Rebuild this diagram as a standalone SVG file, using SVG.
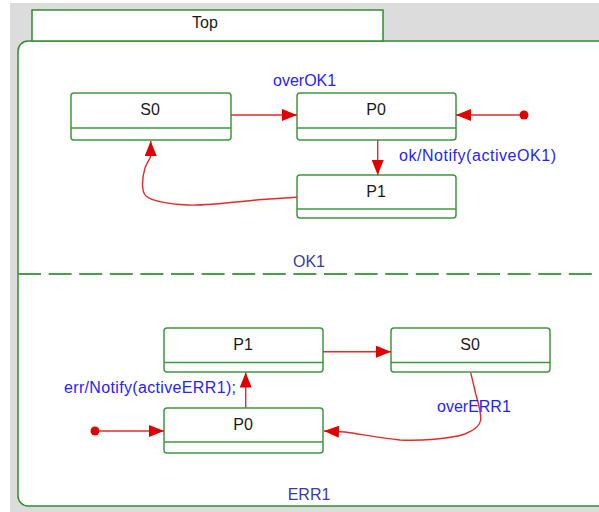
<svg xmlns="http://www.w3.org/2000/svg" width="599" height="512" viewBox="0 0 599 512">
<style>
.bg{fill:#dcdcdd}
.cont{fill:#fff;stroke:#2f8f2f;stroke-width:1.5}
.node rect.box{fill:#fff;stroke:#3f973f;stroke-width:1.5}
.node line{stroke:#3f973f;stroke-width:1.5}
.nt{font-family:"Liberation Sans",Arial,sans-serif;font-size:16px;fill:#1a1a1a;text-anchor:middle}
.lbl{font-family:"Liberation Sans",Arial,sans-serif;font-size:16px;fill:#2424ff}
.reg{font-family:"Liberation Sans",Arial,sans-serif;font-size:16px;fill:#3a3aa8;text-anchor:middle}
.edge{fill:none;stroke:#e52a2a;stroke-width:1.4;marker-end:url(#ah)}
.dot{fill:#e00000}
</style>
<defs>
<marker id="ah" markerUnits="userSpaceOnUse" markerWidth="15" markerHeight="12" viewBox="0 0 15 12" refX="15" refY="6" orient="auto">
<path d="M0,0 L15,6 L0,12 z" fill="#e00000"/>
</marker>
</defs>
<rect class="bg" x="10" y="3" width="589" height="509"/>
<g id="container">
<rect class="cont" x="18" y="41" width="590" height="465" rx="10" ry="10"/>
<rect x="32" y="10" width="351" height="31" fill="#fff" stroke="#2f8f2f" stroke-width="1.5"/>
<text class="nt" x="205" y="28">Top</text>
<line x1="18" y1="274" x2="599" y2="274" stroke="#4a9e4a" stroke-width="2" stroke-dasharray="23 7.6"/>
<text class="reg" x="309" y="267">OK1</text>
<text class="reg" x="309" y="500">ERR1</text>
</g>
<g id="ok_S0" class="node">
<rect class="box" x="71" y="93" width="160" height="47" rx="3"/>
<line x1="71" y1="128" x2="231" y2="128"/>
<text class="nt" x="150" y="115">S0</text>
</g>
<g id="ok_P0" class="node">
<rect class="box" x="297" y="93" width="159" height="47" rx="3"/>
<line x1="297" y1="128" x2="456" y2="128"/>
<text class="nt" x="376" y="115">P0</text>
</g>
<g id="ok_P1" class="node">
<rect class="box" x="297" y="175" width="159" height="43" rx="3"/>
<line x1="297" y1="209" x2="456" y2="209"/>
<text class="nt" x="376" y="197">P1</text>
</g>
<g id="ok_init"><circle class="dot" cx="524" cy="115" r="4.5"/></g>
<g id="err_P1" class="node">
<rect class="box" x="164" y="328" width="159" height="44" rx="3"/>
<line x1="164" y1="362.5" x2="323" y2="362.5"/>
<text class="nt" x="243" y="350">P1</text>
</g>
<g id="err_S0" class="node">
<rect class="box" x="391" y="328" width="159" height="44" rx="3"/>
<line x1="391" y1="362.5" x2="550" y2="362.5"/>
<text class="nt" x="470" y="350">S0</text>
</g>
<g id="err_P0" class="node">
<rect class="box" x="164" y="408" width="159" height="45" rx="3"/>
<line x1="164" y1="442" x2="323" y2="442"/>
<text class="nt" x="243" y="430">P0</text>
</g>
<g id="err_init"><circle class="dot" cx="95" cy="431" r="4.5"/></g>
<g id="connectors">
<path class="edge" d="M231,115 L297,115"/>
<path class="edge" d="M520,115 L456,115"/>
<path class="edge" d="M377.7,140 L377.7,175"/>
<path class="edge" d="M297,197.3 L262,199.5 C235,202 205,206 188,205 C168,204 152,201 146,196 C141,191 142,178 145,168 C147,162 150.7,158 150.7,156 L150.7,141"/>
<path class="edge" d="M99,431 L164,431"/>
<path class="edge" d="M245.7,407.7 L245.7,372.5"/>
<path class="edge" d="M323,351.7 L391,351.7"/>
<path class="edge" d="M470.7,372.7 L476,395 C479,405 481,415 480.7,420 C480,426 475,430 465,434 C450,439 420,441 400,440 C380,438 360,434 345,432 L324,431"/>
<text class="lbl" x="273" y="86">overOK1</text>
<text class="lbl" x="399" y="161" textLength="157" lengthAdjust="spacing">ok/Notify(activeOK1)</text>
<text class="lbl" x="64" y="392.5" textLength="172" lengthAdjust="spacing">err/Notify(activeERR1);</text>
<text class="lbl" x="437" y="411.5">overERR1</text>
</g>
</svg>
